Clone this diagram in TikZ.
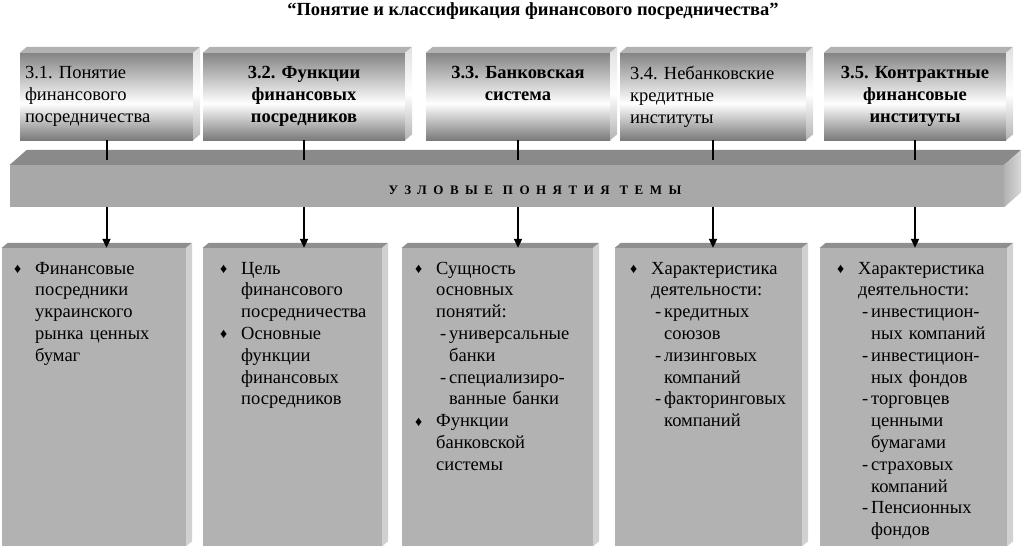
\documentclass[tikz,border=0pt]{standalone}
\usepackage{fontspec}
\usepackage{graphicx}
\setmainfont{Liberation Serif}
\newfontfamily\spacedfont[LetterSpace=50]{Liberation Serif}
\usetikzlibrary{arrows.meta}
\frenchspacing

\pgfdeclareverticalshading{frontshade}{100bp}{color(0bp)=(black!52); color(25bp)=(black!52); color(46bp)=(white); color(75bp)=(black!48); color(100bp)=(black!48)}
\pgfdeclareverticalshading{sideshade}{100bp}{color(0bp)=(black!30); color(25bp)=(black!30); color(50bp)=(white); color(75bp)=(black!12); color(100bp)=(black!12)}

% list items of the lower boxes
\newcommand\itm{\par\noindent\hangindent=21pt\hangafter=1\makebox[21pt][l]{\raisebox{0.5pt}{\fontsize{14}{14}\selectfont ♦}}}
\newcommand\sub{\par\noindent\hangindent=34pt\hangafter=1\hspace*{25pt}\makebox[9pt][l]{-}}

\tikzset{
  head/.style={shading=frontshade, inner sep=0pt, minimum height=87pt,
    font=\fontsize{18.5}{22}\selectfont},
  headb/.style={head, align=center, font=\fontsize{18.5}{22}\selectfont\bfseries},
  band/.style={fill=black!34, inner sep=0pt, minimum width=994pt, minimum height=42pt},
  topic/.style={fill=black!30, inner sep=0pt, minimum height=298pt},
  list/.style={anchor=north west, inner sep=0pt, text width=178pt,
    font=\fontsize{18.5}{21.8}\selectfont},
  link/.style={line width=2pt},
  arr/.style={line width=2pt, -{Triangle[length=9pt,width=8pt]}}
}

\begin{document}
\begin{tikzpicture}[x=1pt,y=-1pt]
\useasboundingbox (0,0) rectangle (1024,546);

\node[font=\fontsize{18.5}{18.5}\selectfont\bfseries] (title) at (533,11)
  {“Понятие и классификация финансового посредничества”};

% upper boxes
\node[head, minimum width=173pt, text width=163pt, align=left] (t1) at (106.5,96.5)
  {3.1. Понятие\\финансового\\посредничества};
\node[headb, minimum width=202pt, text width=192pt] (t2) at (304,96.5)
  {3.2. Функции\\финансовых\\посредников};
\node[headb, minimum width=184pt, text width=174pt] (t3) at (518,96.5)
  {3.3. Банковская\\система\\\vphantom{р}};
\node[head, minimum width=186pt, text width=166pt, align=left] (t4) at (713,96.5)
  {3.4. Небанковские\\кредитные\\институты};
\node[headb, minimum width=182pt, text width=172pt] (t5) at (915,96.5)
  {3.5. Контрактные\\финансовые\\институты};
\foreach \n in {t1,t2,t3,t4,t5} {
  \fill[black!30] (\n.north west) -- ++(7,-6) -- ([shift={(7,-6)}]\n.north east) -- (\n.north east) -- cycle;
  \shade[shading=sideshade] (\n.north east) -- ++(7,-6) -- ([shift={(7,-6)}]\n.south east) -- (\n.south east) -- cycle;
}

% band
\node[band] (band) at (507,186) {};
\fill[black!46] (band.north west) -- ++(17,-15) -- ([shift={(17,-15)}]band.north east) -- (band.north east) -- cycle;
\shade[left color=black!30, right color=black!15] (band.north east) -- ++(17,-15) -- ([shift={(17,-15)}]band.south east) -- (band.south east) -- cycle;
\node[font=\spacedfont\bfseries\fontsize{13}{13}\selectfont] (bandlabel) at (535,190) {УЗЛОВЫЕ ПОНЯТИЯ ТЕМЫ};
\coordinate (bandtop) at (0,160);

% lower boxes
\node[topic, minimum width=184pt] (b1) at (94,397) {};
\node[topic, minimum width=179pt] (b2) at (292.5,397) {};
\node[topic, minimum width=191pt] (b3) at (497.5,397) {};
\node[topic, minimum width=187pt] (b4) at (708.5,397) {};
\node[topic, minimum width=187pt] (b5) at (913.5,397) {};
\foreach \n in {b1,b2,b3,b4,b5} {
  \fill[black!44] (\n.north west) -- ++(6,-5) -- ([shift={(6,-5)}]\n.north east) -- (\n.north east) -- cycle;
  \fill[black!18] (\n.north east) -- ++(6,-5) -- ([shift={(6,-5)}]\n.south east) -- (\n.south east) -- cycle;
}

\node[list] (l1) at (14,252)
  {\itm Финансовые\newline посредники\newline украинского\newline рынка ценных\newline бумаг\par};
\node[list] (l2) at (220,252)
  {\itm Цель\newline финансового\newline посредничества
   \itm Основные\newline функции\newline финансовых\newline посредников\par};
\node[list] (l3) at (415,252)
  {\itm Сущность\newline основных\newline понятий:
   \sub универсальные\newline банки
   \sub специализиро-\newline ванные банки
   \itm Функции\newline банковской\newline системы\par};
\node[list] (l4) at (630,252)
  {\itm Характеристика\newline деятельности:
   \sub кредитных\newline союзов
   \sub лизинговых\newline компаний
   \sub факторинговых\newline компаний\par};
\node[list] (l5) at (837,252)
  {\itm Характеристика\newline деятельности:
   \sub инвестицион-\newline ных компаний
   \sub инвестицион-\newline ных фондов
   \sub торговцев\newline ценными\newline бумагами
   \sub страховых\newline компаний
   \sub Пенсионных\newline фондов\par};

% connectors
\foreach \i in {1,...,5} {
  \draw[link] (t\i.south) -- (t\i.south |- bandtop);
  \draw[arr] (t\i.south |- band.south) -- (t\i.south |- b\i.north);
}
\end{tikzpicture}
\end{document}
